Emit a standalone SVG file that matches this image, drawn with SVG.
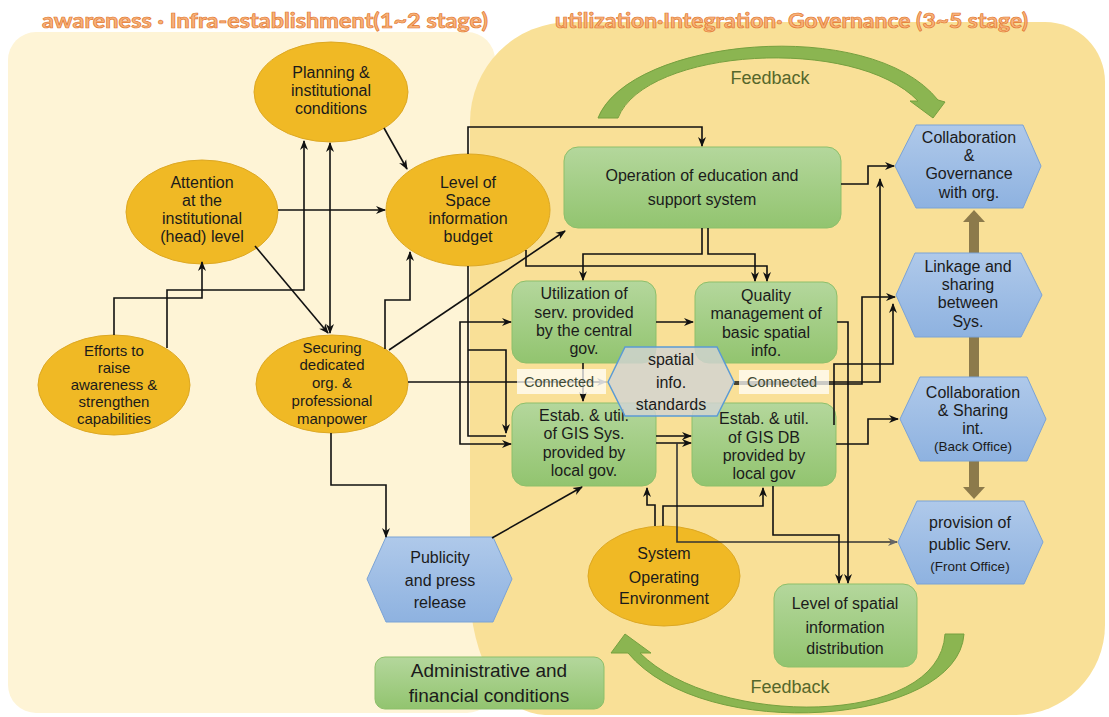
<svg xmlns="http://www.w3.org/2000/svg" width="1109" height="717" viewBox="0 0 1109 717">
<defs>
<style>
.t{font-family:'Liberation Sans',Arial,sans-serif;font-size:16px;fill:#1b1b1b;text-anchor:middle}
.t5{font-size:15px}
.s{font-size:13.5px}
.big{font-size:19px}
.fb{font-family:'Liberation Sans',Arial,sans-serif;font-size:18px;fill:#56672B;text-anchor:middle}
.cn{font-family:'Liberation Sans',Arial,sans-serif;font-size:14.5px;fill:#3F4A33;text-anchor:middle}
.ttl{font-family:Lato,'Liberation Sans',sans-serif;font-weight:bold;font-size:21px;fill:#F8B27A;stroke:#E2782F;stroke-width:0.7}
.ell{fill:#F0B925;stroke:#DDA823;stroke-width:1}
.box{fill:url(#gGreen);stroke:#8DBF6A;stroke-width:1}
.hex{fill:url(#gBlue);stroke:#7BA3D6;stroke-width:1}
.c{fill:none;stroke:#111;stroke-width:1.6;marker-end:url(#ah)}
.cn0{fill:none;stroke:#111;stroke-width:1.6}
.fbk{fill:#8BB551;stroke:#76A03F;stroke-width:1}
.brn{fill:#8C7A4B}
</style>
<linearGradient id="gGreen" x1="0" y1="0" x2="0" y2="1"><stop offset="0" stop-color="#B4D79C"/><stop offset="1" stop-color="#92C46F"/></linearGradient>
<linearGradient id="gBlue" x1="0" y1="0" x2="0" y2="1"><stop offset="0" stop-color="#AFC9EA"/><stop offset="1" stop-color="#8EB2E0"/></linearGradient>
<marker id="ah" viewBox="0 0 10 10" refX="9" refY="5" markerWidth="10" markerHeight="10" markerUnits="userSpaceOnUse" orient="auto-start-reverse"><path d="M0,1 L10,5 L0,9 L3,5 z" fill="#111"/></marker>
<marker id="ahg" viewBox="0 0 10 10" refX="9" refY="5" markerWidth="10" markerHeight="10" markerUnits="userSpaceOnUse" orient="auto"><path d="M0,1 L10,5 L0,9 L3,5 z" fill="#666"/></marker>
</defs>

<!-- backgrounds -->
<rect x="8" y="32" width="487" height="681" rx="28" fill="#FEF4D6"/>
<path d="M470,122 A100,100 0 0 1 570,22 H1045 A60,60 0 0 1 1105,82 V625 A90,90 0 0 1 1015,715 H545 A75,125 0 0 1 470,590 Z" fill="#F9E097"/>

<text class="ttl" x="42" y="28" textLength="446" lengthAdjust="spacingAndGlyphs">awareness · Infra-establishment(1~2 stage)</text>
<text class="ttl" x="555" y="28" textLength="473" lengthAdjust="spacingAndGlyphs">utilization·Integration· Governance (3~5 stage)</text>

<!-- feedback arrows -->
<g id="feedback-top">
<path class="fbk" d="M598,118 C630,38 870,15 938,100 L945,102 L933,118 L910,101 L918,101 C855,35 645,48 618,118 Z"/>
<text class="fb" x="770" y="84">Feedback</text>
</g>
<g id="feedback-bottom">
<path class="fbk" d="M964,634 C958,725 705,745 628,653 L611,653 L625,634 L651,653 L640,653 C715,728 940,728 945,634 Z"/>
<text class="fb" x="790" y="693">Feedback</text>
</g>

<!-- brown vertical arrows -->
<g id="stack-arrows">
<rect class="brn" x="969" y="221" width="10" height="33"/>
<polygon class="brn" points="963,222 974,210 985,222"/>
<rect class="brn" x="969" y="336" width="10" height="42"/>
<rect class="brn" x="969" y="460" width="10" height="29"/>
<polygon class="brn" points="963,487 974,499 985,487"/>
</g>

<!-- nodes -->
<g id="planning"><ellipse class="ell" cx="331" cy="92" rx="77" ry="50"/>
<text class="t" x="331" y="78">Planning &amp;</text><text class="t" x="331" y="96">institutional</text><text class="t" x="331" y="114">conditions</text></g>

<g id="attention"><ellipse class="ell" cx="202" cy="212" rx="76" ry="52"/>
<text class="t" x="202" y="188">Attention</text><text class="t" x="202" y="206">at the</text><text class="t" x="202" y="224">institutional</text><text class="t" x="202" y="242">(head) level</text></g>

<g id="budget"><ellipse class="ell" cx="468" cy="210" rx="82" ry="56"/>
<text class="t" x="468" y="188">Level of</text><text class="t" x="468" y="206">Space</text><text class="t" x="468" y="224">information</text><text class="t" x="468" y="242">budget</text></g>

<g id="efforts"><ellipse class="ell" cx="114" cy="385" rx="76" ry="50"/>
<text class="t t5" x="114" y="356">Efforts to</text><text class="t t5" x="114" y="373">raise</text><text class="t t5" x="114" y="390">awareness &amp;</text><text class="t t5" x="114" y="407">strengthen</text><text class="t t5" x="114" y="424">capabilities</text></g>

<g id="securing"><ellipse class="ell" cx="332" cy="384" rx="76" ry="49"/>
<text class="t t5" x="332" y="353">Securing</text><text class="t t5" x="332" y="370">dedicated</text><text class="t t5" x="332" y="388">org. &amp;</text><text class="t t5" x="332" y="406">professional</text><text class="t t5" x="332" y="424">manpower</text></g>

<g id="sysenv"><ellipse class="ell" cx="664" cy="576" rx="76" ry="50"/>
<text class="t" x="664" y="559">System</text><text class="t" x="664" y="583">Operating</text><text class="t" x="664" y="604">Environment</text></g>

<g id="operation"><rect class="box" x="564" y="147" width="277" height="81" rx="14"/>
<text class="t" x="702" y="181">Operation of education and</text><text class="t" x="702" y="205">support system</text></g>

<g id="utilization"><rect class="box" x="512" y="281" width="144" height="82" rx="14"/>
<text class="t" x="584" y="299">Utilization of</text><text class="t" x="584" y="318">serv. provided</text><text class="t" x="584" y="336">by the central</text><text class="t" x="584" y="354">gov.</text></g>

<g id="quality"><rect class="box" x="695" y="282" width="142" height="81" rx="14"/>
<text class="t" x="766" y="301">Quality</text><text class="t" x="766" y="319">management of</text><text class="t" x="766" y="338">basic spatial</text><text class="t" x="766" y="356">info.</text></g>

<g id="gis-sys"><rect class="box" x="512" y="403" width="144" height="83" rx="14"/>
<text class="t" x="584" y="421">Estab. &amp; util.</text><text class="t" x="584" y="439">of GIS Sys.</text><text class="t" x="584" y="458">provided by</text><text class="t" x="584" y="476">local gov.</text></g>

<g id="gis-db"><rect class="box" x="692" y="403" width="144" height="83" rx="14"/>
<text class="t" x="764" y="424">Estab. &amp; util.</text><text class="t" x="764" y="443">of GIS DB</text><text class="t" x="764" y="461">provided by</text><text class="t" x="764" y="479">local gov</text></g>

<g id="distribution"><rect class="box" x="774" y="584" width="143" height="83" rx="14"/>
<text class="t" x="845" y="609">Level of spatial</text><text class="t" x="845" y="633">information</text><text class="t" x="845" y="654">distribution</text></g>

<g id="admin"><rect class="box" x="375" y="657" width="229" height="52" rx="10"/>
<text class="t big" x="489" y="677">Administrative and</text><text class="t big" x="489" y="702">financial conditions</text></g>

<g id="collab-gov"><polygon class="hex" points="895,166 916,125 1023,125 1041,166 1023,208 916,208"/>
<text class="t" x="969" y="143">Collaboration</text><text class="t" x="969" y="161">&amp;</text><text class="t" x="969" y="179">Governance</text><text class="t" x="969" y="198">with org.</text></g>

<g id="linkage"><polygon class="hex" points="896,295 915,253 1021,253 1042,295 1021,337 915,337"/>
<text class="t" x="968" y="272">Linkage and</text><text class="t" x="968" y="290">sharing</text><text class="t" x="968" y="308">between</text><text class="t" x="968" y="327">Sys.</text></g>

<g id="back-office"><polygon class="hex" points="900,419 920,377 1027,377 1046,419 1027,461 920,461"/>
<text class="t" x="973" y="398">Collaboration</text><text class="t" x="973" y="416">&amp; Sharing</text><text class="t" x="973" y="434">int.</text><text class="t s" x="973" y="451">(Back Office)</text></g>

<g id="front-office"><polygon class="hex" points="898,542 917,501 1024,501 1043,542 1024,584 917,584"/>
<text class="t" x="970" y="528">provision of</text><text class="t" x="970" y="550">public Serv.</text><text class="t s" x="970" y="571">(Front Office)</text></g>

<g id="publicity"><polygon class="hex" points="367,579 386,537 493,537 512,579 493,622 386,622"/>
<text class="t" x="440" y="563">Publicity</text><text class="t" x="440" y="586">and press</text><text class="t" x="440" y="608">release</text></g>

<!-- connectors -->
<g id="connectors">
<path class="c" d="M278,210 H385"/>
<path class="c" d="M384,128 L407,169"/>
<path class="c" d="M114,335 V298 H202 V262"/>
<path class="c" d="M167,348 V290 H304 V141"/>
<path class="c" d="M330,333 V143" style="marker-start:url(#ah)"/>
<path class="c" d="M255,246 L328,333"/>
<path class="c" d="M385,349 V300 H410 V252"/>
<path class="c" d="M389,350 L565,231"/>
<path class="c" d="M468,154 V127 H702 V146"/>
<path class="c" d="M526,250 V266 H767 V281"/>
<path class="c" d="M702,228 V254 H583 V280"/>
<path class="c" d="M708,228 V254 H755 V281"/>
<path class="cn0" d="M468,266 V436 H506"/>
<path class="c" d="M468,350 H506 V433"/>
<path class="c" d="M460,382 V322 H511"/>
<path class="c" d="M460,382 V444 H511"/>
<path d="M408,382 H606" fill="none" stroke="#111" stroke-width="1.6" marker-end="url(#ahg)"/>
<path class="c" d="M656,322 H693"/>
<path class="c" d="M583,363 V401"/>
<path class="c" d="M656,436 H691"/>
<path class="c" d="M656,443 H691"/>
<path d="M677,443 V542 H897" fill="none" stroke="#333" stroke-width="1.6" marker-end="url(#ahg)"/>
<path class="c" d="M655,526 V505 H647 V488"/>
<path class="c" d="M663,526 V506 H763 V488"/>
<path class="c" d="M492,538 L582,487"/>
<path class="c" d="M331,433 V485 H386 V537"/>
<path class="c" d="M773,486 V535 H839 V583"/>
<path class="c" d="M837,322 H848 V583"/>
<path class="c" d="M841,184 H868 V166 H894"/>
<path class="c" d="M734,382 H880 V179"/>
<path class="c" d="M734,384 H862 V297 H895"/>
<path class="c" d="M834,425 V364 H893 V304"/>
<path class="c" d="M836,444 H868 V419 H898"/>
</g>

<!-- connected labels -->
<g id="label-connected-left"><rect x="517" y="369" width="89" height="25" fill="#FFFFFF" fill-opacity="0.72"/>
<text class="cn" x="559" y="387">Connected</text></g>
<g id="label-connected-right"><rect x="739" y="370" width="90" height="24" fill="#FFFFFF" fill-opacity="0.72"/>
<text class="cn" x="782" y="387">Connected</text></g>

<g id="standards"><polygon points="608,382 625,347 717,347 734,382 717,416 625,416" fill="#D2D3D3" fill-opacity="0.82" stroke="#5B9BD5" stroke-width="1.5"/>
<text class="t" x="671" y="365">spatial</text><text class="t" x="671" y="388">info.</text><text class="t" x="671" y="410">standards</text></g>
</svg>
